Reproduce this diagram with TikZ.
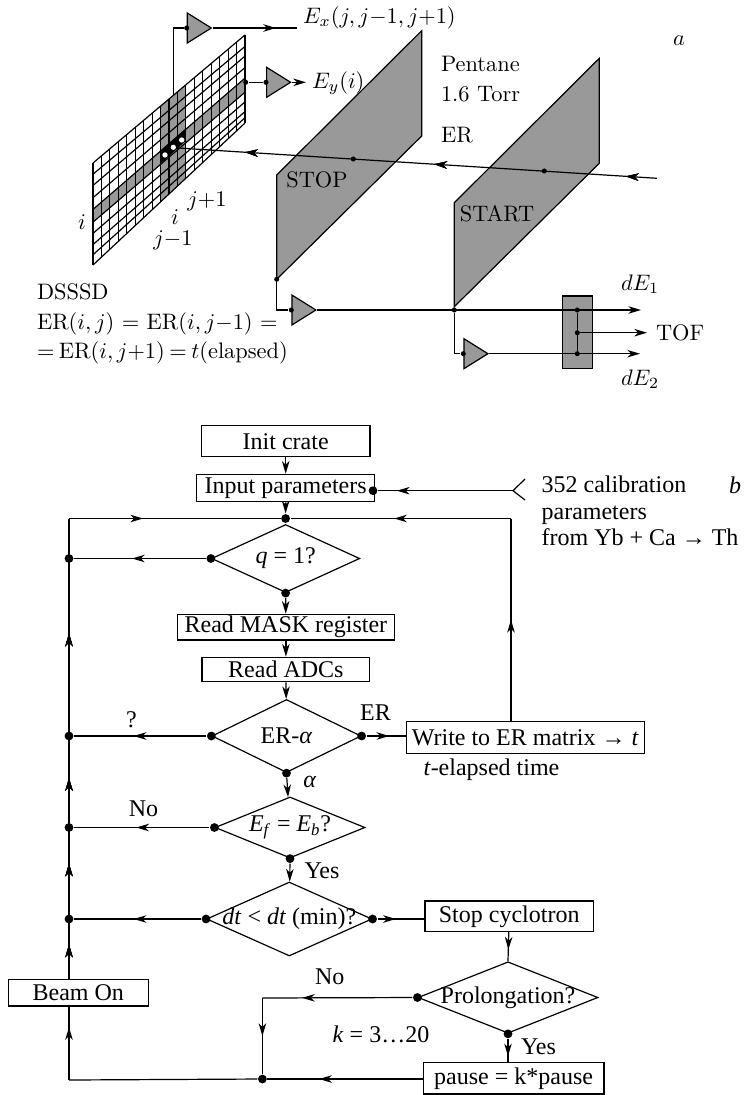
\documentclass[tikz,border=0pt]{standalone}
\usepackage{amsmath}
\usepackage{fontspec}
\usepackage{tikz}
\usetikzlibrary{arrows.meta, calc, shapes.geometric, decorations.markings}
\newfontfamily\flowfont{Liberation Serif}
\definecolor{plate}{gray}{0.6}
\newcommand{\cellpt}[2]{($($(gTL)!#1!(gTR)$)!#2!($(gBL)!#1!(gBR)$)$)}

\begin{document}
\begin{tikzpicture}[
  x=0.75pt, y=-0.75pt,
  line width=0.9pt,
  toptext/.style={scale=1.68, transform shape, inner sep=0pt, font=\fontsize{10}{13.2}\selectfont},
  flowtext/.style={font=\flowfont\fontsize{18}{20}\selectfont},
  flowbox/.style={rectangle, draw, inner sep=0pt, flowtext},
  decision/.style={diamond, draw, inner sep=0pt},
  amp/.style={isosceles triangle, isosceles triangle stretches, draw, fill=plate,
              minimum height=18pt, minimum width=22.5pt, inner sep=0pt, anchor=lower side},
  dot/.style={circle, fill=black, inner sep=0pt, minimum size=6.6pt},
  smalldot/.style={circle, fill=black, inner sep=0pt, minimum size=3.8pt},
  tip/.style={-{Stealth[length=9.5pt, width=5.6pt, inset=2.8pt]}},
  flowtip/.style={postaction={decorate}, decoration={markings,
    mark=at position #1 with {\arrow{Stealth[length=9.5pt, width=5.6pt, inset=2.8pt]}}}}
]
  \useasboundingbox (0,0) rectangle (743,1095);

  % detector grid
  \coordinate (gTL) at (93,163);
  \coordinate (gBL) at (93,265);
  \coordinate (gTR) at (245,35);
  \coordinate (gBR) at (245,123);
  \fill[plate] \cellpt{.444}{0} -- \cellpt{.611}{0} -- \cellpt{.611}{1} -- \cellpt{.444}{1} -- cycle;
  \fill[plate] \cellpt{0}{.455} -- \cellpt{1}{.49} -- \cellpt{1}{.65} -- \cellpt{0}{.58} -- cycle;
  \fill[black] \cellpt{.444}{.47} -- \cellpt{.611}{.47} -- \cellpt{.611}{.60} -- \cellpt{.444}{.60} -- cycle;
  \foreach \a/\b in {0/0, .11/.13, .22/.24, .34/.37, .455/.49, .58/.65, .69/.76, .80/.87, .90/.94, 1/1}{
    \draw ($(gTL)!\a!(gBL)$) -- ($(gTR)!\b!(gBR)$);
  }
  \foreach \c in {0,...,18}{
    \draw ($(gTL)!\c/18!(gTR)$) -- ($(gBL)!\c/18!(gBR)$);
  }
  \foreach \x/\y in {165/155, 173.3/147.3, 181.7/140}{
    \fill[white] (\x,\y) circle (2pt);
  }

  % wire chamber planes
  \draw[fill=plate] (276.7,175) coordinate (stopTL) -- (421.7,30.7) -- (421.7,136) -- (276.7,279.3) coordinate (stopB) -- cycle;
  \draw[fill=plate] (454.3,202.7) -- (599.3,58.3) -- (599.3,163.3) -- (454.3,306.7) coordinate (startB) -- cycle;
  \node[toptext] at (317,180) (stopname) {STOP};
  \node[toptext] at (497,214) (startname) {START};

  % recoil track
  \coordinate (beamin) at (657,178.3);
  \coordinate (beamend) at (178,148);
  \draw[flowtip=.065, flowtip=.465, flowtip=.86] (beamin) -- (beamend);
  \node[smalldot] (startdot) at (544.3,171) {};
  \node[smalldot] (stopdot) at (353.3,159) {};

  % amplifiers
  \node[amp] (ampX) at (186.7,28) {};
  \node[amp] (ampY) at (266,82.3) {};
  \node[amp] (ampStop) at (291.3,310) {};
  \node[amp] (ampStart) at (463.3,353.7) {};
  \coordinate (xtap) at ($(gTL)!.528!(gTR)$);
  \node[smalldot] (xin) at (ampX.lower side) {};
  \node[smalldot] (ytap) at (245.7,82.3) {};
  \node[smalldot] (yin) at (ampY.lower side) {};
  \node[smalldot] (stopin) at (ampStop.lower side) {};
  \node[smalldot] (startin) at (ampStart.lower side) {};
  \node[smalldot] (stopout) at (stopB) {};
  \node[smalldot] (startout) at (startB |- ampStop.east) {};
  \coordinate (xend) at (297,28);
  \coordinate (yend) at (306,82.3);
  \draw (xtap) |- (xin);
  \draw[flowtip=.75] (ampX.east) -- (xend);
  \draw (ytap) -- (yin);
  \draw[tip] (ampY.east) -- (yend);
  \draw (stopout) |- (stopin);
  \draw (startout) |- (startin);

  % time of flight box
  \node[rectangle, draw, fill=plate, minimum width=22.8pt, minimum height=54.5pt, inner sep=0pt] (tofbox) at (577.5,332.4) {};
  \coordinate (e1end) at (641,310);
  \coordinate (e2end) at (640,353.7);
  \coordinate (tofend) at (647,332.7);
  \draw[tip] (ampStop.east) -- (e1end);
  \draw[tip] (ampStart.east) -- (e2end);
  \node[smalldot] (e1dot) at (577.3,310) {};
  \node[smalldot] (tofdot) at (577.3,332.7) {};
  \node[smalldot] (e2dot) at (577.3,353.7) {};
  \draw (e1dot) -- (e2dot);
  \draw[tip] (tofdot) -- (tofend);

  \node[toptext, anchor=west] (ex) at (302,18) {$E_x(j,j{-}1,j{+}1)$};
  \node[toptext, anchor=west] (ey) at (311,83) {$E_y(i)$};
  \node[toptext, anchor=west, align=left] (gas) at (440,79) {Pentane\\1.6 Torr};
  \node[toptext] (er) at (457,135) {ER};
  \node[toptext] (a) at (679,41) {$a$};
  \node[toptext] (rowi) at (82,222) {$i$};
  \node[toptext] (coli) at (175,217) {$i$};
  \node[toptext] (jplus) at (207,201) {$j{+}1$};
  \node[toptext] (jminus) at (173,240) {$j{-}1$};
  \node[toptext, anchor=west] (e1) at (620,284) {$dE_1$};
  \node[toptext, anchor=west] (tof) at (655,333) {TOF};
  \node[toptext, anchor=west] (e2) at (620,379) {$dE_2$};
  \node[toptext, anchor=west, align=left] (dsssd) at (36,324)
    {DSSSD\\ER$(i,j)$ = ER$(i,j{-}1)$ =\\=\hspace{.2em}ER$(i,j{+}1)$\hspace{.2em}=\hspace{.2em}$t$(elapsed)};

  % flow chart
  \node[flowbox, minimum width=126.4pt, minimum height=23.2pt] (init) at (285.7,441.2) {Init crate};
  \node[flowbox, minimum width=133.3pt, minimum height=20.5pt] (input) at (285.7,488) {Input parameters};
  \node[flowbox, minimum width=162.9pt, minimum height=19.3pt] (mask) at (285.9,627.2) {Read MASK register};
  \node[flowbox, minimum width=125.9pt, minimum height=18.3pt] (adc) at (285.9,669.5) {Read ADCs};
  \node[flowbox, minimum width=178.7pt, minimum height=23.7pt] (write) at (525.3,737.5) {Write to ER matrix → \textit{t}};
  \node[flowbox, minimum width=126.2pt, minimum height=23pt] (stop) at (509.2,916.3) {Stop cyclotron};
  \node[flowbox, minimum width=105.1pt, minimum height=20pt] (beam) at (78.3,992.6) {Beam On};
  \node[flowbox, minimum width=135.5pt, minimum height=23.5pt] (pause) at (513.6,1078.3) {pause = k*pause};

  \node[decision, minimum width=111.2pt, minimum height=51pt, label={[flowtext]center:{\textit{q} = 1?}}] (qtest) at (285.6,558.5) {};
  \node[decision, minimum width=111.8pt, minimum height=54.8pt, label={[flowtext]center:{ER-\textit{α}}}] (ertest) at (286.5,736) {};
  \node[decision, minimum width=112.5pt, minimum height=45.8pt, label={[flowtext]center:{\textit{E}\textsubscript{\textit{f}} = \textit{E}\textsubscript{\textit{b}}?}}] (etest) at (290,827.5) {};
  \node[decision, minimum width=124pt, minimum height=55.5pt, label={[flowtext]center:{\textit{dt} < \textit{dt} (min)?}}] (dttest) at (289.3,919) {};
  \node[decision, minimum width=135pt, minimum height=53.6pt, label={[flowtext]center:{Prolongation?}}] (prolong) at (508,997.5) {};

  \node[dot] (loopdot) at (285.6,518.5) {};
  \node[dot] (qleft) at (qtest.west) {};
  \node[dot] (qdown) at (qtest.south) {};
  \node[dot] (erleft) at (ertest.west) {};
  \node[dot] (erright) at (ertest.east) {};
  \node[dot] (erdown) at (ertest.south) {};
  \node[dot] (eleft) at (etest.west) {};
  \node[dot] (edown) at (etest.south) {};
  \node[dot] (dtleft) at (dttest.west) {};
  \node[dot] (dtright) at (dttest.east) {};
  \node[dot] (pleft) at (prolong.west) {};
  \node[dot] (pdown) at (prolong.south) {};
  \node[dot] (inputdot) at (373,490.7) {};

  \coordinate (ltop) at (69,518.5);
  \coordinate (rtop) at (511,518.5);
  \coordinate (lbot) at (69,1080);
  \coordinate (pcorner) at (262.4,998);
  \coordinate (fork) at (513,490.7);
  \coordinate (forkup) at (525,479);
  \coordinate (forkdown) at (525,500);
  \node[dot] (lq) at (ltop |- qleft) {};
  \node[dot] (ler) at (ltop |- erleft) {};
  \node[dot] (le) at (ltop |- eleft) {};
  \node[dot] (ldt) at (ltop |- dtleft) {};
  \node[dot] (pjoin) at (262.4,1079) {};

  \foreach \a/\b in {init/input, input/loopdot, qdown/mask, mask/adc, adc/ertest, erdown/etest, edown/dttest}{
    \draw[tip] (\a) -- (\b);
  }
  \draw (loopdot) -- (qtest.north);
  \draw[flowtip=.86] (fork) -- (inputdot);
  \draw (forkup) -- (fork) -- (forkdown);
  \draw[flowtip=.35] (ltop) -- (loopdot);
  \draw[flowtip=.53] (rtop) -- (loopdot);
  \draw[flowtip=.5] (write.north -| rtop) -- (rtop);
  \draw[flowtip=.56] (qleft) -- (lq);
  \draw[flowtip=.55] (erleft) -- (ler);
  \draw[flowtip=.54] (eleft) -- (le);
  \draw[flowtip=.53] (dtleft) -- (ldt);
  \draw[flowtip=.58] (erright) -- (write.west |- erright);
  \draw[flowtip=.39] (dtright) -- (stop.west |- dtright);
  \draw[flowtip=.6] (stop) -- (prolong.north);
  \draw[flowtip=.75] (pdown) -- (pause.north -| pdown);
  \draw[flowtip=.736] (pleft) -- (pcorner);
  \draw[flowtip=.5] (pcorner) -- (pjoin);
  \draw[flowtip=.667] (pause.west |- pjoin) -- (pjoin);
  \draw (pjoin) -- (lbot);
  \draw[flowtip=.72] (lbot) -- (lbot |- beam.south);
  \draw[flowtip=.074, flowtip=.25, flowtip=.436, flowtip=.75] (lbot |- beam.north) -- (ltop);

  \node[flowtext, anchor=west, align=left, inner sep=0pt] (calib) at (541,511) {352 calibration\\parameters\\from Yb + Ca → Th};
  \node[flowtext] (b) at (735,485) {\textit{b}};
  \node[flowtext] (unknown) at (131.4,720) {?};
  \node[flowtext] (erlabel) at (375.5,713) {ER};
  \node[flowtext, anchor=west, inner sep=0pt] (elapsed) at (423,770) {\textit{t}-elapsed time};
  \node[flowtext] (alpha) at (309.8,781.7) {\textit{α}};
  \node[flowtext] (noe) at (143.5,809) {No};
  \node[flowtext] (yese) at (322,871) {Yes};
  \node[flowtext] (nop) at (329.7,976.7) {No};
  \node[flowtext] (krange) at (381,1034) {\textit{k} = 3…20};
  \node[flowtext] (yesp) at (538.5,1046.7) {Yes};
\end{tikzpicture}
\end{document}
